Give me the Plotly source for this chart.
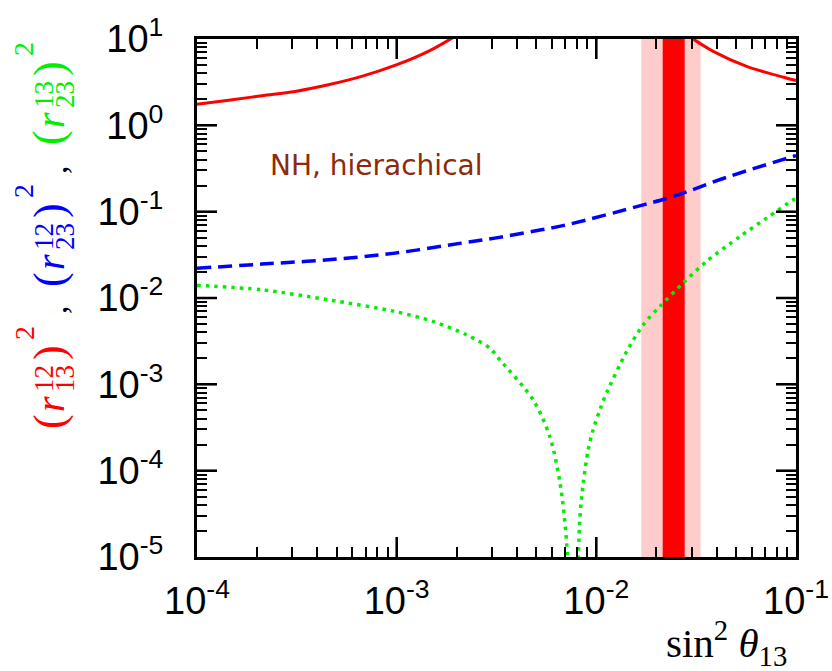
import plotly.graph_objects as go

# ---------------- data ----------------
red_left_x = [1.0e-4, 1.44e-4, 2.11e-4, 3.1e-4, 4.55e-4, 6.68e-4, 9.8e-4, 1.44e-3, 1.9e-3]
red_left_y = [1.75, 1.95, 2.20, 2.47, 2.95, 3.69, 4.94, 7.2, 10.3]
red_right_x = [0.0300, 0.0385, 0.0566, 0.0968, 0.1]
red_right_y = [10.3, 7.2, 4.82, 3.37, 3.30]

blue_x = [1.0e-4, 2.11e-4, 4.55e-4, 9.8e-4, 2.11e-3, 3.1e-3, 4.66e-3, 7.1e-3,
          0.0172, 0.0243, 0.0449, 0.0968, 0.1]
blue_y = [0.0221, 0.0247, 0.0277, 0.0331, 0.0432, 0.0494, 0.0585, 0.0705,
          0.120, 0.150, 0.250, 0.436, 0.445]

green_x = [1.0e-4, 2.11e-4, 4.55e-4, 9.8e-4, 1.52e-3, 2.24e-3, 2.93e-3, 3.29e-3,
           4.83e-3, 5.85e-3, 6.58e-3, 7.1e-3, 7.6e-3, 8.28e-3, 8.6e-3, 9.1e-3,
           9.64e-3, 0.01042, 0.01104, 0.01419, 0.01718, 0.0208, 0.0272, 0.0356,
           0.0524, 0.0713, 0.0968, 0.1]
green_y = [0.0140, 0.01245, 0.00953, 0.00698, 0.00535, 0.00375, 0.00262, 0.00192,
           6.6e-4, 2.48e-4, 7.2e-5, 1.45e-5, 1.0e-7, 2.9e-5, 7.2e-5, 1.74e-4,
           2.97e-4, 5.07e-4, 7.2e-4, 2.4e-3, 4.89e-3, 7.98e-3, 0.0149, 0.0265,
           0.0516, 0.0843, 0.137, 0.142]

band_outer = [0.0168, 0.0333]
band_inner = [0.0215, 0.0277]

x_tickvals = [1e-4, 1e-3, 1e-2, 1e-1]
x_ticktext = ["10<sup>-4</sup>", "10<sup>-3</sup>", "10<sup>-2</sup>", "10<sup>-1</sup>"]
y_tickvals = [1e-5, 1e-4, 1e-3, 1e-2, 1e-1, 1e0, 1e1]
y_ticktext = ["10<sup>-5</sup>", "10<sup>-4</sup>", "10<sup>-3</sup>", "10<sup>-2</sup>",
              "10<sup>-1</sup>", "10<sup>0</sup>", "10<sup>1</sup>"]

title_groups = [("red", "12", "13"), ("blue", "12", "23"), ("#00ee00", "13", "23")]
label_text = "NH, hierachical"

# ---------------- layout geometry ----------------
W, H = 832, 671
L, R, T, B = 197, 796, 39, 557
MAJOR_LEN = 20


def pxx(px):
    return (px - L) / (R - L)


def pxy(py):
    return (B - py) / (B - T)


fig = go.Figure()

fig.add_shape(type="rect", xref="x", yref="paper", x0=band_outer[0], x1=band_outer[1],
              y0=0, y1=1, fillcolor="#ffcccc", line_width=0, layer="below")
fig.add_shape(type="rect", xref="x", yref="paper", x0=band_inner[0], x1=band_inner[1],
              y0=0, y1=1, fillcolor="#ff0000", line_width=0, layer="below")

fig.add_trace(go.Scatter(x=red_left_x, y=red_left_y, mode="lines",
                         line=dict(color="#ff0000", width=3, shape="spline")))
fig.add_trace(go.Scatter(x=red_right_x, y=red_right_y, mode="lines",
                         line=dict(color="#ff0000", width=3, shape="spline")))
fig.add_trace(go.Scatter(x=blue_x, y=blue_y, mode="lines",
                         line=dict(color="#0000ff", width=3.5, dash="14px,7px", shape="spline")))
fig.add_trace(go.Scatter(x=green_x, y=green_y, mode="lines",
                         line=dict(color="#00ee00", width=3.5, dash="3.5px,5px",
                                   shape="spline", smoothing=0.8)))

# long major ticks on all four sides, placed through the axis scales
hx = MAJOR_LEN / (B - T)
hy = MAJOR_LEN / (R - L)
for v in x_tickvals[1:-1]:
    for y0, y1 in [(0, hx), (1 - hx, 1)]:
        fig.add_shape(type="line", xref="x", yref="paper", x0=v, x1=v, y0=y0, y1=y1,
                      line=dict(color="black", width=2.5), layer="above")
for v in y_tickvals[1:-1]:
    for x0, x1 in [(0, hy), (1 - hy, 1)]:
        fig.add_shape(type="line", xref="paper", yref="y", x0=x0, x1=x1, y0=v, y1=v,
                      line=dict(color="black", width=2.5), layer="above")

tickfont = dict(family="Liberation Sans, Arial", size=38, color="black")
minor = dict(ticks="inside", dtick="D1", ticklen=10, tickwidth=2,
             tickcolor="black", showgrid=False)

fig.update_layout(
    xaxis=dict(type="log", range=[-4, -1], tickmode="array", tickvals=x_tickvals,
               ticktext=x_ticktext, tickfont=tickfont, ticklabelstandoff=8,
               showline=True, linecolor="black", linewidth=3, mirror="ticks",
               ticks="inside", ticklen=MAJOR_LEN, tickwidth=2, tickcolor="black",
               showgrid=False, zeroline=False, automargin=False, minor=minor),
    yaxis=dict(type="log", range=[-5, 1], tickmode="array", tickvals=y_tickvals,
               ticktext=y_ticktext, ticklabelstandoff=23, tickfont=tickfont,
               showline=True, linecolor="black", linewidth=3, mirror="ticks",
               ticks="inside", ticklen=MAJOR_LEN, tickwidth=2, tickcolor="black",
               showgrid=False, zeroline=False, automargin=False, minor=minor),
)

annotations = []
serif = "Liberation Serif, Times New Roman, serif"


def add_rot(text, px, py, size, color, italic=False):
    t = f"<i>{text}</i>" if italic else text
    annotations.append(dict(text=t, xref="paper", yref="paper", x=pxx(px), y=pxy(py),
                            xanchor="center", yanchor="middle", textangle=-90,
                            showarrow=False, font=dict(family=serif, size=size, color=color)))


base_py = [422, 280, 138]
for (color, sup, sub), by in zip(title_groups, base_py):
    add_rot("(", 49, by, 44, color)
    add_rot("r", 50, by - 18, 40, color, italic=True)
    add_rot(sup, 44, by - 43, 27, color)
    add_rot(sub, 65, by - 43, 27, color)
    add_rot(")", 49, by - 69, 44, color)
    add_rot("2", 24, by - 89, 28, color)
for py in [310, 170]:
    add_rot(",", 55, py, 34, "black")

annotations.append(dict(text="sin<sup>2</sup> <i>θ</i><sub>13</sub>", xref="paper", yref="paper",
                        x=pxx(789), y=pxy(643), xanchor="right", yanchor="middle",
                        showarrow=False, font=dict(family=serif, size=41, color="black")))

annotations.append(dict(text=label_text, xref="paper", yref="paper", x=pxx(268), y=pxy(166),
                        xanchor="left", yanchor="middle", showarrow=False,
                        font=dict(family="DejaVu Sans", size=28, color="#8c2a0c")))

fig.update_layout(
    width=W, height=H, autosize=False,
    margin=dict(l=L, r=W - R, t=T, b=H - B, pad=0),
    paper_bgcolor="white", plot_bgcolor="white",
    showlegend=False, annotations=annotations,
)

fig.write_html("out.html")
